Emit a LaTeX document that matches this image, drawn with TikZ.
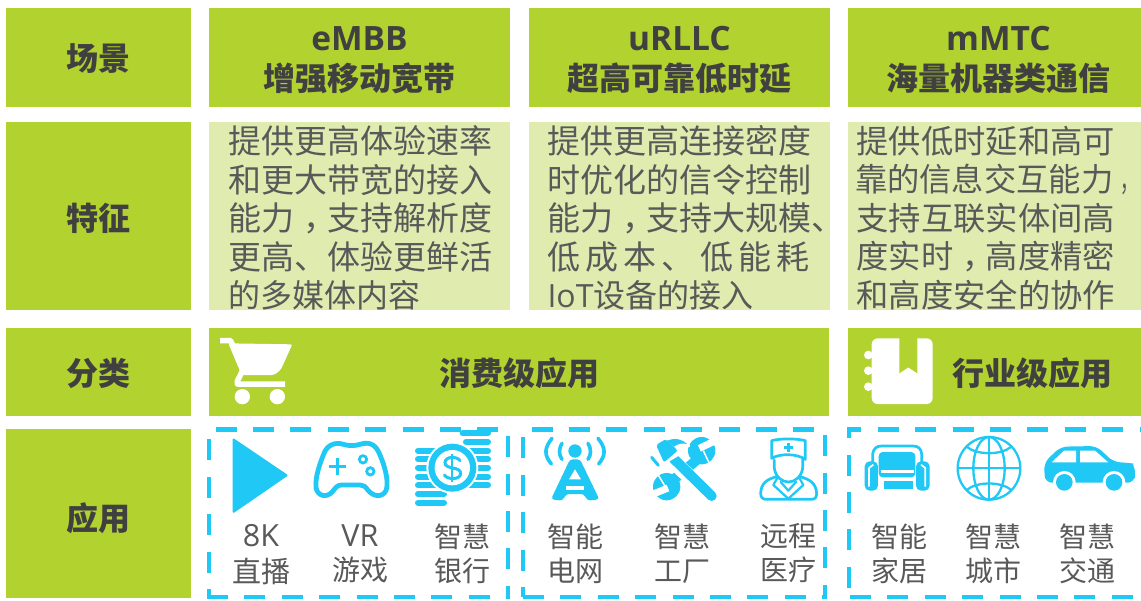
\documentclass[tikz,border=0pt]{standalone}
\usepackage{fontspec}
\setmainfont{Noto Sans CJK SC}
\newfontfamily\lat{Open Sans}
\newfontfamily\halfp[FakeStretch=0.55]{Noto Sans CJK SC}
\definecolor{gr}{HTML}{B1D22F}
\definecolor{lg}{HTML}{E0ECAF}
\definecolor{cy}{HTML}{1FC8F5}
\definecolor{dk}{HTML}{404040}
\definecolor{md}{HTML}{595959}
\newcommand{\cmA}{\hspace{9pt}\rlap{，}\hspace{24pt}}
\newcommand{\cmB}{\hspace{7pt}{\halfp ，}}
\newcommand{\cmC}{\hspace{9pt}\rlap{，}\hspace{23.3pt}}
\newcommand{\latb}[1]{{\lat\fontsize{33.5}{40}\selectfont #1}}
\newcommand{\lata}[1]{{\lat\fontsize{30.5}{34}\selectfont #1}}
\tikzset{
  cell/.style={fill=gr,inner sep=0pt,outer sep=0pt},
  caption/.style={inner sep=0pt,outer sep=0pt,text=dk,align=center,font=\fontsize{32}{40}\selectfont\bfseries},
  light/.style={fill=lg,inner sep=0pt,outer sep=0pt},
  body/.style={inner sep=0pt,outer sep=0pt,text=md,align=left,anchor=west,font=\fontsize{33}{38.6}\selectfont},
  bodyc/.style={body,font=\fontsize{32.3}{38.6}\selectfont},
  app/.style={inner sep=0pt,outer sep=0pt,text=md,align=center,font=\fontsize{28}{34}\selectfont},
  dash box/.style={draw=cy,line width=4.5pt},
  ico/.style={draw=cy,fill=none,line width=4.8pt,line cap=round,line join=round},
  zoomed/.style={x=0.33333pt,y=-0.33333pt}
}
\begin{document}
\begin{tikzpicture}[x=1pt,y=-1pt]
\useasboundingbox (0,0) rectangle (1141,600);
\fill[white] (0,0) rectangle (1141,600);
% row 1
\node[cell,minimum width=185pt,minimum height=99pt] (r1) at (98.5,57.5) {};
\node[cell,minimum width=301pt,minimum height=99pt] (h1) at (359.5,57.5) {};
\node[cell,minimum width=301pt,minimum height=99pt] (h2) at (679.5,57.5) {};
\node[cell,minimum width=293pt,minimum height=99pt] (h3) at (994.5,57.5) {};
\node[caption] (r1t) at (98.5,58.5) {场景};
\node[caption] (h1t) at (359.5,60) {\latb{eMBB}\\增强移动宽带};
\node[caption] (h2t) at (679.5,60) {\latb{uRLLC}\\超高可靠低时延};
\node[caption] (h3t) at (998.5,60) {\latb{mMTC}\\海量机器类通信};
% row 2
\node[cell,minimum width=185pt,minimum height=188pt] (r2) at (98.5,216) {};
\node[caption] (r2t) at (98.5,218.5) {特征};
\node[light,minimum width=301pt,minimum height=188pt] (c1) at (359.5,216) {};
\node[light,minimum width=301pt,minimum height=188pt] (c2) at (679.5,216) {};
\node[light,minimum width=293pt,minimum height=188pt] (c3) at (994.5,216) {};
\node[body] (t1) at (228.5,218) {提供更高体验速率\\和更大带宽的接入\\能力\cmA 支持解析度\\更高、体验更鲜活\\\fontsize{32}{38.6}\selectfont 的多媒体内容};
\node[body] (t2) at (547.5,218) {提供更高连接密度\\时优化的信令控制\\能力\cmA 支持大规模、\\\makebox[262pt][s]{低\hfill 成\hfill 本\hfill 、\hfill 低\hfill 能\hfill 耗}\\\fontsize{32}{38.6}\selectfont {\lat IoT}设备的接入};
\node[bodyc] (t3) at (855,218) {\hspace*{1.5pt}提供低时延和高可\\靠的信息交互能力\cmB\\\hspace*{1.5pt}支持互联实体间高\\\hspace*{1.5pt}度实时\cmC 高度精密\\\hspace*{1.5pt}和高度安全的协作};
% row 3
\node[cell,minimum width=185pt,minimum height=88pt] (r3) at (98.5,372) {};
\node[cell,minimum width=620pt,minimum height=88pt] (b1) at (519,372) {};
\node[cell,minimum width=293pt,minimum height=88pt] (b2) at (994.5,372) {};
\node[caption] (r3t) at (98.5,373.5) {分类};
\node[caption] (b1t) at (519,373.5) {消费级应用};
\node[caption] (b2t) at (1032,373.5) {行业级应用};
% row 4
\node[cell,minimum width=185pt,minimum height=169pt] (r4) at (98.5,513.5) {};
\node[caption] (r4t) at (98.5,518.5) {应用};
% dashed frames
\draw[dash box,dash pattern=on 21pt off 16.4pt,dash phase=13pt] (209,597)--(209,429.5)--(508,429.5)--(508,597);
\draw[dash box,dash pattern=on 21pt off 16.4pt] (207,597)--(510,597);
\draw[dash box,dash pattern=on 21pt off 16.4pt,dash phase=11pt] (523,597)--(523,429.5)--(825,429.5)--(825,597);
\draw[dash box,dash pattern=on 21pt off 16.4pt] (523,597)--(827,597);
\draw[dash box,dash pattern=on 21pt off 16.4pt,dash phase=28.2pt] (849,597)--(849,429.5)--(1141,429.5);
\draw[dash box,dash pattern=on 21pt off 16.4pt,dash phase=-1pt] (849,597)--(1141,597);
% app labels
\node[app] (a1) at (261,555) {\lata{8K}\\[2pt]\fontsize{29}{34}\selectfont 直播};
\node[app] (a2) at (360,553.5) {\lata{VR}\\游戏};
\node[app] (a3) at (462,553.5) {智慧\\银行};
\node[app] (a4) at (575,553.5) {智能\\电网};
\node[app] (a5) at (682,553.5) {智慧\\工厂};
\node[app] (a6) at (788,553.5) {远程\\医疗};
\node[app] (a7) at (899,553.5) {智能\\家居};
\node[app] (a8) at (993,553.5) {智慧\\城市};
\node[app] (a9) at (1087,553.5) {智慧\\交通};
% cart
\begin{scope}[shift={(200,325)},zoomed]
\fill[white,rounded corners=2pt] (85,55)--(277,58)--(242,135)--(222,150)--(125,150)--cycle;
\draw[white,line width=5.5pt,line join=round] (60,47)--(92,47)--(130,132)--(112,168)--(112,177)--(255,177);
\fill[white] (127,215) circle[radius=23];
\fill[white] (232,215) circle[radius=23];
\end{scope}
% notebook
\begin{scope}[shift={(840,325)},zoomed]
\fill[white,rounded corners=6pt] (95,40) rectangle (278,237);
\fill[white] (85,90) circle[radius=13];
\fill[white] (85,137) circle[radius=13];
\fill[white] (85,185) circle[radius=13];
\fill[gr] (178,38)--(232,38)--(232,145)--(205,127)--(178,145)--cycle;
\end{scope}
% play, gamepad, coins
\begin{scope}[shift={(200,420)},zoomed]
\fill[cy,rounded corners=2pt] (98,53)--(265,166)--(98,281)--cycle;
\draw[ico] (430,73) .. controls (445,78) and (465,78) .. (480,73) .. controls (515,62) and (530,80) .. (540,105) .. controls (555,140) and (565,180) .. (560,205) .. controls (555,230) and (525,235) .. (505,212) .. controls (495,198) and (490,195) .. (480,195) -- (425,195) .. controls (412,195) and (408,202) .. (398,214) .. controls (380,236) and (352,228) .. (348,203) .. controls (345,170) and (360,130) .. (372,100) .. controls (382,75) and (405,65) .. (430,73) -- cycle;
\draw[cy,line width=2.8pt] (412,115)--(412,165) (387,140)--(437,140);
\draw[cy,line width=2.8pt] (489,118) circle[radius=11];
\draw[cy,line width=2.8pt] (511,154) circle[radius=11];
\foreach \yy in {92,118,144,170,196,222,248}
  \draw[cy,line width=6pt,line cap=round] (654,\yy)--(732,\yy);
\foreach \yy/\xs in {40/788,66/798,92/798,118/798,144/798,170/798,196/798}
  \draw[cy,line width=6pt,line cap=round] (\xs,\yy)--(864,\yy);
\fill[white] (757,143) circle[radius=78];
\fill[cy] (757,143) circle[radius=72];
\fill[white] (757,143) circle[radius=53];
\draw[cy,line width=3pt,line cap=round] (780,122) .. controls (772,108) and (735,108) .. (735,128) .. controls (735,150) and (782,138) .. (782,160) .. controls (782,180) and (742,180) .. (733,165);
\draw[cy,line width=2.2pt] (757,102)--(757,186);
\end{scope}
% tower, doctor
\begin{scope}[shift={(510,420)},zoomed]
\fill[cy] (195,93) circle[radius=20];
\draw[ico,line width=3.6pt] (156,70) .. controls (146,85) and (146,105) .. (156,118);
\draw[ico,line width=3.6pt] (234,70) .. controls (244,85) and (244,105) .. (234,118);
\draw[ico,line width=3.6pt] (126,55) .. controls (102,85) and (102,105) .. (124,132);
\draw[ico,line width=3.6pt] (264,55) .. controls (288,85) and (288,105) .. (266,132);
\fill[cy,rounded corners=3pt] (180,118)--(210,118)--(268,238)--(232,242)--(222,222)--(168,222)--(158,242)--(123,238)--cycle;
\fill[white] (195,148)--(213,178)--(177,178)--cycle;
\fill[white] (169,199) rectangle (221,210);
% doctor
\draw[ico,line width=2.7pt] (785,115)--(785,62) .. controls (810,55) and (860,55) .. (886,62) -- (886,118) .. controls (860,100) and (810,100) .. (785,115) -- cycle;
\fill[cy] (830,68) rectangle (841,96);
\fill[cy] (821,77) rectangle (850,87);
\draw[ico,line width=2.7pt] (793,120) -- (793,145) .. controls (797,170) and (815,186) .. (835,186) .. controls (855,186) and (874,170) .. (878,145) -- (878,115);
\draw[ico,line width=2.7pt] (800,170) .. controls (770,178) and (753,190) .. (752,220) .. controls (752,232) and (758,238) .. (768,238) -- (905,238) .. controls (915,238) and (920,232) .. (920,220) .. controls (918,190) and (900,178) .. (870,170);
\draw[ico,line width=2.2pt] (803,172)--(790,195)--(835,236)--(880,195)--(867,172);
\draw[ico,line width=2.2pt] (812,186)--(835,212)--(858,186);
\end{scope}
% tools
\begin{scope}[shift={(640,430)},zoomed]
\fill[cy] (185,62) circle[radius=41];
\draw[cy,line width=10pt] (170,90)--(100,150);
\fill[cy] (80,170) circle[radius=41];
\draw[white,line width=7pt] (178,55)--(235,28);
\draw[white,line width=1.5pt] (190,62)--(206,96);
\draw[white,line width=7pt] (84,174)--(25,198);
\draw[white,line width=1.5pt] (54,134)--(76,170);
\draw[white,line width=15pt] (95,90)--(215,203);
\draw[cy,line width=10pt,line cap=round] (100,85)--(215,198);
\fill[white] (85,25)--(145,25)--(150,50)--(115,60)--(120,75)--(70,105)--(40,48)--cycle;
\fill[cy,rounded corners=2pt] (48,45)--(78,27)--(113,62)--(72,97)--cycle;
\fill[cy] (82,32) .. controls (105,22) and (128,28) .. (141,42) .. controls (125,38) and (112,42) .. (102,50) -- cycle;
\draw[cy,line width=3pt,line cap=round] (35,82)--(55,106);
\end{scope}
% sofa
\begin{scope}[shift={(858,438)},zoomed]
\draw[ico,line width=2.7pt] (44,72)--(44,48) .. controls (46,32) and (56,24) .. (70,24) -- (165,24) .. controls (180,24) and (190,32) .. (191,48) -- (191,72);
\fill[cy,rounded corners=5pt] (20,70) rectangle (60,158);
\fill[cy,rounded corners=5pt] (174,70) rectangle (215,158);
\draw[white,line width=1.7pt,line join=round] (33,146)--(33,90)--(46,80);
\draw[white,line width=1.7pt,line join=round] (202,146)--(202,90)--(189,80);
\draw[white,line width=1.2pt] (61,72)--(61,158) (173,72)--(173,158);
\fill[cy,rounded corners=4pt] (62,42) rectangle (172,118);
\fill[white] (68,97) rectangle (168,106);
\fill[cy] (78,128) rectangle (165,153);
\end{scope}
% globe, car
\begin{scope}[shift={(830,420)},zoomed]
\draw[ico,line width=2.3pt] (477,145) circle[radius=94];
\draw[ico,line width=2.3pt] (477,145) ellipse[x radius=47,y radius=94];
\draw[ico,line width=2.3pt] (477,51)--(477,239) (383,145)--(571,145);
\draw[ico,line width=2.3pt] (410,80) .. controls (440,106) and (514,106) .. (544,80);
\draw[ico,line width=2.3pt] (410,210) .. controls (440,184) and (514,184) .. (544,210);
\fill[cy,rounded corners=7pt] (642,128)--(692,80)--(800,78)--(850,126)--(890,128) .. controls (905,130) and (915,145) .. (914,175) -- (914,188)--(645,188)--cycle;
\fill[white] (665,127)--(702,92)--(738,92)--(738,127)--cycle;
\fill[white] (750,92)--(795,92)--(835,127)--(750,127)--cycle;
\fill[white] (703,187) circle[radius=34];
\fill[white] (852,187) circle[radius=34];
\fill[white] (640,188) rectangle (920,220);
\fill[cy] (703,187) circle[radius=25];
\fill[cy] (852,187) circle[radius=25];
\end{scope}
\end{tikzpicture}
\end{document}
